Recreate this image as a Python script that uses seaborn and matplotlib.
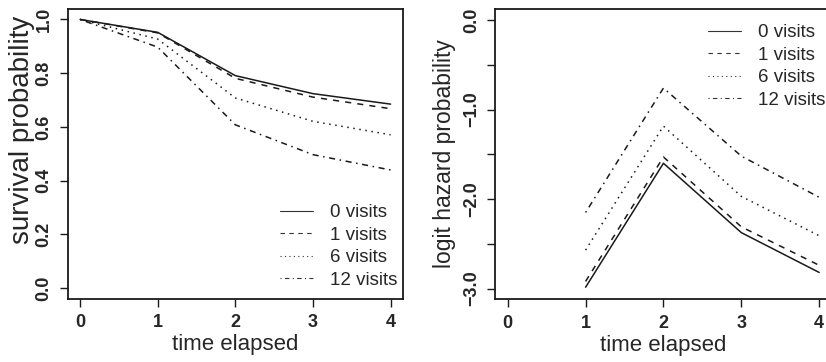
import numpy as np
import pandas as pd
import matplotlib
matplotlib.use("Agg")
import matplotlib.pyplot as plt
import seaborn as sns

# ---- data ----
groups = ["0 visits", "1 visits", "6 visits", "12 visits"]
surv_times = [0, 1, 2, 3, 4]
surv_0 = [1.0, 0.952, 0.791, 0.724, 0.685]
surv_1 = [1.0, 0.950, 0.781, 0.711, 0.668]
surv_6 = [1.0, 0.927, 0.708, 0.621, 0.571]
surv_12 = [1.0, 0.897, 0.608, 0.497, 0.440]

haz_times = [1, 2, 3, 4]
haz_0 = [-2.985, -1.60, -2.375, -2.82]
haz_1 = [-2.92, -1.53, -2.31, -2.74]
haz_6 = [-2.57, -1.185, -1.97, -2.41]
haz_12 = [-2.15, -0.76, -1.52, -1.98]

x_ticks = [0, 1, 2, 3, 4]
surv_yticks = [0.0, 0.2, 0.4, 0.6, 0.8, 1.0]
haz_yticks = [-3.0, -2.5, -2.0, -1.5, -1.0, -0.5, 0.0]
haz_ylabels = ["\u22123.0", "", "\u22122.0", "", "\u22121.0", "", "0.0"]

surv_df = pd.DataFrame({
    "time": surv_times * 4,
    "value": surv_0 + surv_1 + surv_6 + surv_12,
    "group": sum([[g] * len(surv_times) for g in groups], []),
})
haz_df = pd.DataFrame({
    "time": haz_times * 4,
    "value": haz_0 + haz_1 + haz_6 + haz_12,
    "group": sum([[g] * len(haz_times) for g in groups], []),
})

# ---- style ----
sns.set_style("ticks")
plt.rcParams["font.family"] = ["Liberation Sans", "DejaVu Sans"]
plt.rcParams["axes.unicode_minus"] = True

dashes = {"0 visits": "", "1 visits": (4, 4), "6 visits": (1, 3), "12 visits": (1, 3, 4, 3)}
ink = "#1a1a1a"

W, H = 826, 362
fig = plt.figure(figsize=(W / 100, H / 100), dpi=100)

def px_axes(l, r, t, b):
    return fig.add_axes([l / W, 1 - b / H, (r - l) / W, (b - t) / H])

ax1 = px_axes(67.7, 403.0, 8.7, 299.0)
ax2 = px_axes(495.3, 831.6, 9.3, 299.3)

for ax, df in [(ax1, surv_df), (ax2, haz_df)]:
    sns.lineplot(data=df, x="time", y="value", style="group", style_order=groups,
                 dashes=dashes, color=ink, linewidth=1.1, ax=ax, legend="full")

tick_font = dict(fontsize=13, fontweight="bold")
for ax in (ax1, ax2):
    ax.set_xlim(-0.16, 4.16)
    ax.set_xticks(x_ticks)
    ax.set_xticklabels([str(t) for t in x_ticks], **tick_font)
    for s in ax.spines.values():
        s.set_visible(True)
        s.set_linewidth(1.3)
        s.set_color(ink)
    ax.tick_params(axis="both", direction="out", length=6, width=1.0, color=ink)
    ax.tick_params(axis="x", pad=5)
    ax.tick_params(axis="y", pad=5)
    ax.set_xlabel("time elapsed", fontsize=16)
    ax.xaxis.set_label_coords(0.5, -0.158)
    ax.xaxis.label.set_va("center")

ax1.set_ylim(-0.04, 1.04)
ax1.set_yticks(surv_yticks)
ax1.set_yticklabels([f"{v:.1f}" for v in surv_yticks], rotation=90, va="center", **tick_font)
ax1.set_ylabel("survival probability", fontsize=20)

ax2.set_ylim(-3.12, 0.12)
ax2.set_yticks(haz_yticks)
ax2.set_yticklabels(haz_ylabels, rotation=90, va="center", **tick_font)
ax2.set_ylabel("logit hazard probability", fontsize=16.5)

for ax, xc, yc in [(ax1, -0.135, 0.582), (ax2, -0.1496, 0.504)]:
    lab = ax.yaxis.label
    lab.set_rotation_mode("default")
    lab.set_va("center")
    lab.set_ha("center")
    ax.yaxis.set_label_coords(xc, yc)

for ax, (lx, ty) in [(ax1, (280, 204.3)), (ax2, (708, 24.3))]:
    handles, labels = ax.get_legend_handles_labels()
    leg = ax.legend(handles, labels, loc="upper left", bbox_to_anchor=(lx / W, 1 - ty / H),
                    bbox_transform=fig.transFigure, frameon=False, fontsize=13.5,
                    borderpad=0, borderaxespad=0, handlelength=1.76, handletextpad=0.9,
                    labelspacing=0.28)
    for ln in leg.get_lines():
        ln.set_linewidth(0.8)
        ln.set_color("#333333")

fig.savefig("out.png", dpi=100)
